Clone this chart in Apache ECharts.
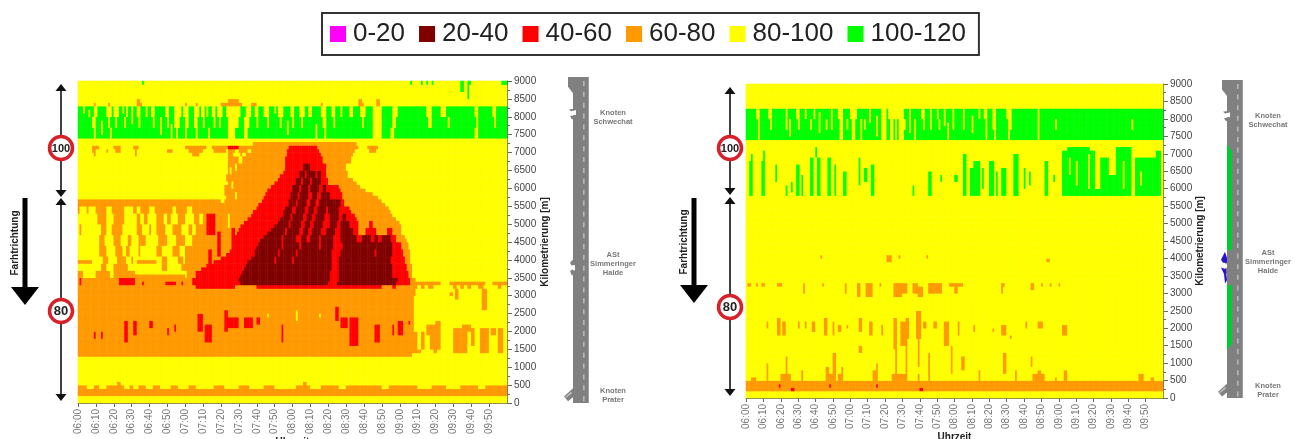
<!DOCTYPE html>
<html><head><meta charset="utf-8">
<style>html,body{margin:0;padding:0;background:#fff}#c{width:1295px;height:439px;filter:blur(0.45px)}</style>
<script src="https://cdn.jsdelivr.net/npm/echarts@6/dist/echarts.min.js"></script>
</head><body><div id="c"></div>
<script>
const legendLabels=["0-20","20-40","40-60","60-80","80-100","100-120"];
const legendColors=["#FF00FF","#800000","#FF0000","#FF9900","#FFFF00","#00FF00"];
const classSpeed={p:10,m:30,r:50,o:70,y:90,g:110};
const timeLabels=["06:00","06:10","06:20","06:30","06:40","06:50","07:00","07:10","07:20","07:30","07:40","07:50","08:00","08:10","08:20","08:30","08:40","08:50","09:00","09:10","09:20","09:30","09:40","09:50"];

// rows: [from m, to m, "class+end minute ..."]  (speed class per time run)
const leftRows=[
[8900,9000,"y36 g37 y186 g187 y192 g193 y195 g196 y198 g199 y214 g216 y218 g220 y237 g240"],
[8700,8900,"y214 g216 y218 g219 y"],
[8500,8700,"y218 g219 y"],
[8400,8500,"y33 o35 y84 o90 y157 o159 y167 o169 y"],
[8300,8400,"y9 o10 y17 o18 y33 o36 y60 o61 y66 o67 y80 o92 y97 o100 y136 o137 y157 o160 y167 o169 y"],
[8000,8300,"g9 y11 g16 y19 g20 y23 g27 y28 g33 y35 g41 y43 g49 y51 g54 y58 g59 y62 g65 y68 g69 y71 g75 y77 g78 y81 g83 y91 g94 y97 g99 y101 g104 y107 g112 y115 g119 y121 g124 y127 g129 y131 g136 y139 g142 y144 g152 y154 g158 y161 g165 y170 g176 y179 g195 y198 g203 y206 g222 y224 g232 y234 g"],
[7700,8000,"g8 y10 g17 y18 g21 y22 g26 y27 g34 y35 g42 y43 g50 y51 g54 y57 g60 y62 g65 y67 g70 y71 g76 y77 g79 y80 g84 y90 g93 y96 g100 y101 g106 y107 g113 y114 g120 y121 g125 y126 g137 y139 g143 y144 g159 y160 g165 y170 g176 y178 g196 y198 g207 y208 g223 y224 g233 y234 g"],
[7400,7700,"g9 y10 g18 y19 g55 y56 g60 y61 g66 y67 g84 y88 g93 y95 g138 y139 g165 y170 g175 y177 g222 y224 g"],
[7300,7400,"y"],
[7200,7300,"y98 o156 y"],
[7100,7200,"y8 o12 y20 o24 y31 o34 y60 o72 y75 o84 r90 o118 r134 o157 y162 o168 y"],
[7000,7100,"y8 o10 y16 o17 y21 o24 y32 o33 y50 o53 y62 o70 y76 o83 y84 o88 y90 o95 y97 o117 r135 o155 y163 o167 y"],
[6900,7000,"y9 o10 y32 o33 y64 o68 y84 o87 y91 o92 y94 o117 r136 o154 y"],
[6700,6900,"y84 o90 y92 o116 r137 o153 y"],
[6500,6700,"y84 o88 y89 o116 r126 m130 r139 o150 y"],
[6300,6500,"y84 o115 r124 m127 r128 m133 r134 m136 r139 o151 y"],
[6100,6300,"y84 o112 r122 m125 r126 m130 r131 m136 r140 o154 y"],
[5900,6100,"y84 o108 r120 m124 r125 m129 r130 m135 r137 m139 r146 o158 y"],
[5700,5900,"y83 o105 r119 m123 r124 m129 r131 m134 r136 m141 r148 o165 y"],
[5500,5700,"o103 r118 m122 r123 m128 r130 m133 r135 m147 r149 o170 y"],
[5300,5500,"y77 o100 r116 m120 r122 m127 r129 m132 r134 m139 r140 m146 r152 o174 y"],
[5100,5300,"y76 o97 r115 m119 r120 m126 r128 m131 r133 m138 r141 m146 r148 m150 r155 o176 y"],
[4900,5100,"y75 o93 r112 m118 r119 m125 r127 m130 r132 m137 r141 m145 r147 m152 r157 o163 r165 o180 y"],
[4700,4900,"y74 o90 r108 m116 r117 m124 r126 m129 r131 m136 r139 m144 r147 m154 r157 o161 r167 o173 r176 o181 y"],
[4500,4700,"y73 o88 r104 m114 r115 m122 r125 m128 r130 m135 r136 m143 r147 m156 r159 m164 r166 m168 r170 m175 r178 o183 y"],
[4300,4500,"y71 o86 r101 m114 r115 m124 r125 m135 r136 m143 r148 m176 r181 o185 y"],
[4100,4300,"y68 o85 r99 m112 r113 m122 r123 m142 r147 m166 r167 m176 r182 o186 y"],
[3900,4100,"y65 o80 r97 m110 r111 m120 r121 m142 r146 m175 r183 o186 y"],
[3700,3900,"y62 o72 r94 m142 r146 m176 r184 o187 y"],
[3500,3700,"y61 o66 r92 m141 r146 m176 r185 o187 y"],
[3400,3500,"o64 r90 m141 r146 m179 r186 o189 y"],
[3300,3400,"o64 r91 m140 r145 m178 r186 o203 y208 o228 y232 o240"],
[3200,3300,"o190 y192 o194 y196 o199 y210 o212 y214 o216 y218 o220 y224 o227 y235 o237 y"],
[3000,3200,"o189 y211 o213 y227 o228 y"],
[2000,3000,"o188 y"],
[1500,2000,"o190 y"],
[1400,1500,"o192 y"],
[1300,1400,"o187 y"],
[600,1300,"y"],
[500,600,"y22 o24 y126 o128 y"],
[400,500,"o5 y9 o12 y16 o26 y29 o31 y34 o38 y42 o46 y52 o56 y62 o66 y76 o82 y90 o96 y104 o110 y122 o130 y136 o146 y150 o170 y174 o190 y198 o206 y214 o224 y228 o240"],
[200,400,"o"],
[0,200,"y"]
];
// patches: [from m, to m, from minute, to minute, class]
const leftPatches=[
[5300,5500,0,1,"o"],[5300,5500,5,6,"o"],[5300,5500,10,16,"o"],[5300,5500,19,26,"o"],[5300,5500,31,33,"o"],[5300,5500,35,40,"o"],[5300,5500,43,53,"o"],[5300,5500,55,61,"o"],[5300,5500,64,77,"o"],
[5000,5300,11,16,"o"],[5000,5300,20,26,"o"],[5000,5300,33,35,"o"],[5000,5300,37,39,"o"],[5000,5300,44,48,"o"],[5000,5300,50,52,"o"],[5000,5300,56,60,"o"],[5000,5300,65,68,"o"],[5000,5300,70,76,"o"],
[4700,5000,1,2,"o"],[4700,5000,13,16,"o"],[4700,5000,19,25,"o"],[4700,5000,33,36,"o"],[4700,5000,40,41,"o"],[4700,5000,44,49,"o"],[4700,5000,53,58,"o"],[4700,5000,62,64,"o"],[4700,5000,66,75,"o"],
[4400,4700,12,15,"o"],[4400,4700,20,24,"o"],[4400,4700,28,30,"o"],[4400,4700,34,38,"o"],[4400,4700,45,50,"o"],[4400,4700,55,60,"o"],[4400,4700,64,73,"o"],
[4100,4400,12,16,"o"],[4100,4400,21,25,"o"],[4100,4400,27,29,"o"],[4100,4400,34,35,"o"],[4100,4400,44,47,"o"],[4100,4400,53,57,"o"],[4100,4400,60,71,"o"],
[3900,4100,14,17,"o"],[3900,4100,22,27,"o"],[3900,4100,30,31,"o"],[3900,4100,47,50,"o"],[3900,4100,56,59,"o"],[3900,4000,0,8,"o"],[3900,4000,33,44,"o"],[3900,4100,60,68,"o"],
[3700,3900,13,16,"o"],[3700,3900,20,28,"o"],[3700,3900,47,50,"o"],[3700,3900,58,65,"o"],
[3500,3700,0,3,"o"],[3500,3700,10,18,"o"],[3500,3700,20,32,"o"],[3500,3600,32,60,"o"],
[4700,5300,72,77,"r"],[4900,5300,84,85,"y"],
[4100,4800,78,80,"r"],[3900,4300,73,75,"r"],[3700,4000,78,80,"r"],[3500,3700,70,74,"r"],[4300,4900,86,88,"r"],
[3300,3500,23,32,"r"],[3300,3400,36,37,"r"],[3300,3400,49,55,"r"],[3300,3400,58,59,"r"],[3300,3500,1,2,"r"],
[3200,3300,66,88,"r"],[3200,3300,100,170,"r"],[3200,3300,176,178,"r"],
[1800,2000,9,10,"r"],[1800,2000,13,14,"r"],[1700,2300,26,28,"r"],[1900,2300,31,33,"r"],[2100,2300,40,42,"r"],[1900,2100,50,51,"r"],[2000,2200,54,55,"r"],
[2000,2500,67,70,"r"],[1700,2200,71,75,"r"],[2000,2600,82,84,"r"],[2100,2400,84,90,"r"],[2100,2400,93,98,"r"],[2200,2400,100,102,"r"],[1700,2200,114,115,"r"],
[2300,2700,144,146,"r"],[2100,2400,147,151,"r"],[1600,2400,152,157,"r"],[1700,2200,166,169,"r"],[1900,2200,176,177,"r"],[1900,2300,179,182,"r"],[2200,2300,185,186,"r"],
[2400,2500,135,136,"y"],[2400,2500,106,107,"y"],[2300,2600,122,123,"y"],
[3000,3100,208,210,"o"],[2900,3200,211,213,"o"],[2600,3200,226,229,"o"],
[2100,2300,200,203,"o"],[1900,2200,195,203,"o"],[1500,2000,197,203,"o"],[1400,1700,199,201,"o"],[1400,2100,210,218,"o"],[2000,2200,215,220,"o"],[1600,2100,220,222,"o"],[1400,2100,225,230,"o"],[1400,2100,235,238,"o"],[1900,2100,231,234,"o"],[1500,2000,192,194,"o"],
// congestion front edges, half-row steps
[6300,6400,113,115,"r"],[6100,6200,110,112,"r"],[5900,6000,106,108,"r"],[5700,5800,104,105,"r"],[5500,5600,101,103,"r"],[5300,5400,98,100,"r"],[5100,5200,95,97,"r"],[4900,5000,91,93,"r"],[4700,4800,89,90,"r"],[4500,4600,87,88,"r"],[4100,4200,83,85,"r"],[3900,4000,76,80,"r"],[3700,3800,69,72,"r"],
[5300,5400,115,116,"m"],[5100,5200,113,115,"m"],[4900,5000,110,112,"m"],[4700,4800,106,108,"m"],[4500,4600,102,104,"m"],[4300,4400,100,101,"m"],[3900,4000,95,97,"m"],[3700,3800,93,94,"m"],[3500,3600,91,92,"m"],
[6100,6200,154,156,"o"],[5900,6000,158,161,"o"],[5700,5800,165,168,"o"],[5500,5600,170,172,"o"],[5300,5400,174,175,"o"],[5100,5200,176,178,"o"],[4900,5000,180,181,"o"],[4500,4600,183,184,"o"],
[5900,6000,146,147,"r"],[5300,5400,152,153,"r"],[5100,5200,155,156,"r"],
[6200,6400,83,84,"o"],[5800,6100,82,84,"o"],[5600,5700,80,82,"y"],[6400,6600,85,86,"y"],[6000,6200,86,87,"y"],[5700,5900,88,89,"y"],
// thin gaps in the 100-120 band
[8100,8300,3,4,"y"],[8000,8200,6,7,"y"],[7500,7900,13,14,"y"],[8100,8300,25,26,"y"],[7800,8300,30,31,"y"],[8000,8300,38,39,"y"],[7500,8000,46,47,"y"],[7400,7800,52,53,"y"],[8000,8300,72,73,"y"],[7400,7700,73,74,"y"],[8100,8300,110,111,"y"],[7500,7900,117,118,"y"],[8000,8300,147,148,"y"],[7400,7800,133,134,"y"]
];
const rightRows=[
[8300,9000,"y"],
[8000,8300,"g6 y8 g13 y15 g23 y24 g29 y31 g39 y40 g53 y56 g60 y64 g78 y81 g82 y91 g101 y103 g106 y107 g110 y111 g119 y120 g137 y139 g142 y144 g150 y153 g168 y169 g"],
[7700,8000,"g7 y8 g14 y15 g23 y24 g30 y31 g37 y38 g46 y47 g54 y56 g58 y59 g61 y63 g68 y69 g78 y81 g83 y85 g86 y87 g88 y92 g102 y103 g106 y107 g111 y112 g119 y120 g138 y139 g142 y144 g151 y153 g168 y169 g178 y179 g222 y223 g"],
[7400,7700,"g7 y8 g54 y56 g61 y63 g78 y81 g83 y85 g86 y87 g88 y91 g138 y139 g143 y144 g151 y152 g168 y169 g"],
[500,7400,"y"],
[200,500,"o"],
[0,200,"y"]
];
const rightPatches=[
[7500,8000,25,26,"y"],[8000,8300,34,35,"y"],[7600,8200,42,43,"y"],[7700,8300,49,50,"y"],[7400,8000,66,67,"y"],[7900,8300,71,72,"y"],[7500,8100,75,76,"y"],[7600,8300,94,95,"y"],[7400,8000,97,98,"y"],[7800,8300,114,115,"y"],[7400,7900,116,117,"y"],[7700,8300,125,126,"y"],[7600,8100,130,131,"y"],[8000,8300,134,135,"y"],
[5800,6800,2,4,"g"],[6800,7000,3,4,"g"],[5800,6800,9,11,"g"],[6800,7100,10,11,"g"],[6200,6700,17,18,"g"],[5800,6100,23,24,"g"],[5900,6200,26,27,"g"],[5800,6700,29,31,"g"],[5800,6400,32,33,"g"],[5800,6900,37,39,"g"],[6900,7200,40,41,"g"],[5800,6900,41,43,"g"],[5800,6900,47,49,"g"],[5800,6700,51,52,"g"],[5800,6500,56,58,"g"],[6100,6900,65,66,"g"],[6200,6600,68,70,"g"],[5800,6700,72,74,"g"],[5800,6100,96,97,"g"],[5800,6500,105,107,"g"],[6200,6400,112,113,"g"],[6200,6400,120,122,"g"],[5800,7000,125,127,"g"],[5800,6800,131,135,"g"],
[5800,6600,129,131,"g"],[6000,6600,136,137,"g"],[5800,6800,140,143,"g"],[5800,6500,144,145,"g"],[5800,6600,147,150,"g"],[5800,7000,154,157,"g"],[6000,6600,160,161,"g"],[6100,6500,163,164,"g"],[5800,6800,172,174,"g"],[6200,6400,177,178,"g"],
[5800,7100,182,201,"g"],[7100,7200,185,198,"g"],[5800,6900,204,209,"g"],[5800,6400,209,213,"g"],[5800,7200,213,222,"g"],[5800,6900,224,236,"g"],[5800,7100,236,239,"g"],[5800,6000,200,204,"g"],
[6100,6800,190,191,"y"],[6000,7000,197,198,"y"],[6000,6800,217,218,"y"],[6400,6900,186,187,"y"],[6100,6500,227,228,"y"],
[3900,4100,81,84,"o"],[4000,4100,88,89,"o"],[4000,4100,104,105,"o"],[4000,4100,43,44,"o"],
[3900,4000,173,175,"o"],
[3200,3300,1,3,"o"],[3200,3300,6,7,"o"],[3200,3300,9,11,"o"],[3200,3300,18,21,"o"],[3000,3300,33,34,"o"],[3200,3300,44,45,"o"],[3000,3300,57,58,"o"],[2900,3300,64,66,"o"],[2900,3300,69,73,"o"],[3200,3300,77,78,"o"],[2900,3300,85,90,"o"],[3000,3300,90,93,"o"],[3000,3300,96,99,"o"],[2900,3200,99,102,"o"],[3000,3300,105,113,"o"],[3200,3300,117,125,"o"],[3000,3200,120,122,"o"],
[3200,3300,148,149,"o"],[3000,3300,147,148,"o"],[3100,3300,164,166,"o"],[3200,3300,170,171,"o"],[3200,3300,175,176,"o"],[3200,3300,180,181,"o"],
[2000,2200,12,13,"o"],[1800,2300,18,20,"o"],[1800,2200,21,23,"o"],[2000,2200,30,31,"o"],[2000,2200,34,35,"o"],[1900,2200,38,40,"o"],[1800,2300,45,47,"o"],[1800,2200,50,51,"o"],[1900,2100,53,55,"o"],[2000,2100,58,59,"o"],[1900,2300,65,67,"o"],[1800,2200,71,73,"o"],[1800,2100,78,79,"o"],
[1400,2300,85,87,"o"],[1500,2200,89,92,"o"],[1700,2300,92,94,"o"],[1700,2500,98,101,"o"],[2000,2200,102,104,"o"],[2000,2200,108,110,"o"],[1500,2200,114,117,"o"],[1800,2200,122,123,"o"],[1900,2100,131,132,"o"],
[1800,2100,147,150,"o"],[1700,1800,152,153,"o"],[2000,2200,161,162,"o"],[2000,2200,168,171,"o"],[1800,2100,182,185,"o"],[1900,2000,142,143,"o"],
[500,1200,23,24,"o"],[500,1000,12,13,"o"],[500,800,32,33,"o"],[500,1300,50,52,"o"],[500,900,55,56,"o"],[500,1000,75,76,"o"],[500,1500,86,87,"o"],[500,1700,92,93,"o"],[900,1700,99,100,"o"],[500,1300,105,106,"o"],[700,1500,118,119,"o"],[800,1200,124,126,"o"],[700,1300,148,150,"o"],[500,800,134,135,"o"],[900,1200,164,165,"o"],[500,900,46,48,"o"],[1300,1500,65,67,"o"],
[500,600,3,6,"o"],[500,700,20,26,"o"],[500,700,47,50,"o"],[500,700,53,55,"o"],[500,800,73,76,"o"],[500,700,84,92,"o"],[500,700,99,100,"o"],[500,800,155,156,"o"],[500,700,165,172,"o"],[700,800,168,170,"o"],[500,800,183,185,"o"],[500,700,226,229,"o"],[500,600,233,235,"o"],[500,600,178,179,"o"],
[300,400,19,20,"r"],[200,300,26,28,"r"],[300,400,48,49,"r"],[300,400,75,76,"r"],[200,300,100,102,"r"]
];

function buildCells(rows,patches){
  const g=[];for(let i=0;i<90;i++){g.push(new Array(240).fill("y"));}
  rows.forEach(([a,b,s])=>{
    let t=0;
    s.split(" ").forEach(tok=>{
      const c=tok[0],e=tok.length>1?+tok.slice(1):240;
      for(let m=a;m<b;m+=100)for(let x=t;x<e;x++)g[m/100][x]=c;
      t=e;
    });
  });
  patches.forEach(([a,b,t0,t1,c])=>{
    for(let m=a;m<b;m+=100)for(let x=t0;x<t1;x++)g[Math.floor(m/100)][x]=c;
  });
  const out=[];
  g.forEach((r,i)=>r.forEach((c,x)=>out.push([x,i,classSpeed[c]])));
  return out;
}
const minuteSlots=Array.from({length:240},(_,i)=>i);
const kmSlots=Array.from({length:90},(_,i)=>i*100);
const FONT='"Liberation Sans",Arial,sans-serif';
const G0={left:78,top:81,width:429,height:322},G1={left:746,top:84,width:417,height:314};

function xv(i,gap){return{type:'value',gridIndex:i,min:0,max:240,interval:10,position:'bottom',
  axisLine:{show:true,onZero:false,lineStyle:{color:'#666'}},axisTick:{show:true,length:4,lineStyle:{color:'#666'}},splitLine:{show:false},
  axisLabel:{rotate:90,fontSize:10,color:'#777',fontFamily:FONT,margin:6,showMaxLabel:false,formatter:v=>timeLabels[v/10]||''},
  name:'Uhrzeit',nameLocation:'middle',nameGap:gap,nameMoveOverlap:false,nameTextStyle:{fontSize:10,fontWeight:'bold',color:'#222',fontFamily:FONT}};}
function yv(i,gap){return{type:'value',gridIndex:i,min:0,max:9000,interval:500,position:'right',
  axisLine:{show:true,onZero:false,lineStyle:{color:'#666'}},axisTick:{show:true,length:5,lineStyle:{color:'#666'}},minorTick:{show:true,splitNumber:2,length:3,lineStyle:{color:'#666'}},splitLine:{show:false},minorSplitLine:{show:false},
  axisLabel:{fontSize:10,color:'#444',fontFamily:FONT,margin:7,formatter:v=>String(v)},
  name:'Kilometrierung [m]',nameLocation:'middle',nameRotate:90,nameGap:gap,nameMoveOverlap:false,nameTextStyle:{fontSize:10,fontWeight:'bold',color:'#222',fontFamily:FONT}};}
function xc(i){return{type:'category',gridIndex:i,data:minuteSlots,show:false,position:'bottom'};}
function yc(i){return{type:'category',gridIndex:i,data:kmSlots,show:false,position:'left'};}

// schematic decorations
const gr=[];
function poly(points,fill,z){gr.push({type:'polygon',shape:{points},style:{fill},z:z||5,silent:true});}
function rect(x,y,w,h,fill,z){gr.push({type:'rect',shape:{x,y,width:w,height:h},style:{fill},z:z||5,silent:true});}
function text(x,y,t,o){gr.push({type:'text',x,y,rotation:o.rot||0,style:Object.assign({text:t,fontFamily:FONT,align:'center',verticalAlign:'middle'},o.s),z:8,silent:true});}
function line(x,y1,y2,w,col){gr.push({type:'line',shape:{x1:x,y1,x2:x,y2},style:{stroke:col||'#111',lineWidth:w},z:6,silent:true});}
function sign(cx,cy,t){
  gr.push({type:'circle',shape:{cx,cy,r:11.5},style:{fill:'#fff',stroke:'#d8202a',lineWidth:3.5},z:7,silent:true});
  text(cx,cy+0.5,t,{s:{fontSize:t.length>2?11:13,fontWeight:'bold',fill:'#222',fontFamily:'"Liberation Sans Narrow","Liberation Sans",sans-serif'}});
}
function speedArrows(x,a,b,c,d,s1,s2,cy1,cy2){
  line(x,a+5,b-5,1.6);line(x,c+5,d-5,1.6);
  [[a,1],[c,1]].forEach(([y])=>poly([[x,y],[x-5.5,y+7],[x+5.5,y+7]],'#111',6));
  [[b,-1],[d,-1]].forEach(([y])=>poly([[x,y],[x-5.5,y-7],[x+5.5,y-7]],'#111',6));
  sign(x,cy1,s1);sign(x,cy2,s2);
}
function flowArrow(x,y0,y1,y2,tx,ty){
  rect(x-2.5,y0,5,y1-y0,'#000',6);
  poly([[x-14,y1],[x+14,y1],[x,y2]],'#000',6);
  text(tx,ty,'Farhtrichtung',{rot:Math.PI/2,s:{fontSize:10,fontWeight:'bold',fill:'#222'}});
}
function road(x0,top,bot,labels,green){
  const H=bot-top,Y=f=>top+f*H,R='#808080';
  rect(x0,top,16,H,R);
  poly([[x0-5,top],[x0,top],[x0,Y(.05)],[x0-5,Y(.03)]],R);
  poly([[x0,Y(.095)],[x0-5,Y(.1)],[x0-3,Y(.115)],[x0,Y(.108)]],'#fff',6);
  poly([[x0+2,Y(.097)],[x0-4,Y(.1)],[x0-2,Y(.105)],[x0+2,Y(.102)]],R,7);
  poly([[x0+2,Y(.117)],[x0-3,Y(.12)],[x0-1,Y(.13)],[x0+2,Y(.125)]],R,7);
  rect(x0-1,Y(.102),4,.015*H,'#fff',6);
  poly([[x0,Y(.56)],[x0-3,Y(.57)],[x0-1,Y(.58)],[x0,Y(.575)]],R,7);
  poly([[x0,Y(.59)],[x0-3,Y(.595)],[x0-1,Y(.61)],[x0,Y(.605)]],R,7);
  rect(x0-1,Y(.577),3,.016*H,'#fff',6);
  poly([[x0,Y(.955)],[x0-9,Y(.98)],[x0-5,Y(.995)],[x0+3,Y(.975)]],R);
  poly([[x0-2,Y(.965)],[x0-8,Y(.982)],[x0-7,Y(.985)],[x0-1,Y(.97)]],'#bbb',6);
  for(let i=0;i<30;i++)rect(x0+10.5,top+4+i*H/30,.8,5,'#eee',6);
  rect(x0+15.5,top,.5,H,'#bbb',6);
  if(green){
    poly([[x0,Y(.2)],[x0+5,Y(.225)],[x0+5,Y(.83)],[x0,Y(.85)]],'#00cc33',6);
    rect(x0,Y(.535),5,.11*H,'#808080',7);
    poly([[x0-6,Y(.565)],[x0-2,Y(.54)],[x0,Y(.56)],[x0,Y(.575)],[x0-4,Y(.575)]],'#2a10d0',8);
    poly([[x0-6,Y(.59)],[x0-1,Y(.595)],[x0,Y(.63)],[x0-2,Y(.64)],[x0-3,Y(.61)]],'#2a10d0',8);
  }
  labels.forEach(([x,y,t])=>text(x,y,t,{s:{fontSize:7.5,fontWeight:'bold',fill:'#777'}}));
}
speedArrows(61,84,197,198,401,'100','80',148,311);
speedArrows(730,87,195,197,396,'100','80',148,307);
flowArrow(25,198,287,305,15,243);
flowArrow(694,198,285,303,684,242);
road(573,77,403,[[613,113,'Knoten'],[613,122,'Schwechat'],[613,255,'ASt'],[613,264,'Simmeringer'],[613,273,'Halde'],[613,391,'Knoten'],[613,400,'Prater']],false);
road(1227,80,398,[[1268,116,'Knoten'],[1268,125,'Schwechat'],[1268,253,'ASt'],[1268,262,'Simmeringer'],[1268,271,'Halde'],[1268,386,'Knoten'],[1268,395,'Prater']],true);

const chart=echarts.init(document.getElementById('c'),null,{renderer:'canvas'});
chart.setOption({
  animation:false,
  backgroundColor:'#fff',
  grid:[G0,G1].map(g=>Object.assign({containLabel:false,outerBoundsMode:'none'},g)),
  xAxis:[xv(0,34),xv(1,34),xc(0),xc(1)],
  yAxis:[yv(0,33),yv(1,32),yc(0),yc(1)],
  visualMap:{type:'piecewise',orient:'horizontal',left:321,top:12,seriesIndex:[0,1],selectedMode:false,hoverLink:false,
    itemWidth:16,itemHeight:16,itemGap:14,textGap:7,itemSymbol:'rect',padding:[8,13,8,8],
    borderColor:'#333',borderWidth:2,backgroundColor:'#fff',align:'left',
    textStyle:{fontSize:26,color:'#222',fontFamily:FONT},
    pieces:legendLabels.map((l,i)=>({min:i*20,max:i*20+20,label:l,color:legendColors[i]}))},
  series:[
    {type:'heatmap',xAxisIndex:2,yAxisIndex:2,data:buildCells(leftRows,leftPatches),progressive:0,silent:true,itemStyle:{borderWidth:0}},
    {type:'heatmap',xAxisIndex:3,yAxisIndex:3,data:buildCells(rightRows,rightPatches),progressive:0,silent:true,itemStyle:{borderWidth:0}}
  ],
  graphic:{elements:gr}
});
</script></body></html>
